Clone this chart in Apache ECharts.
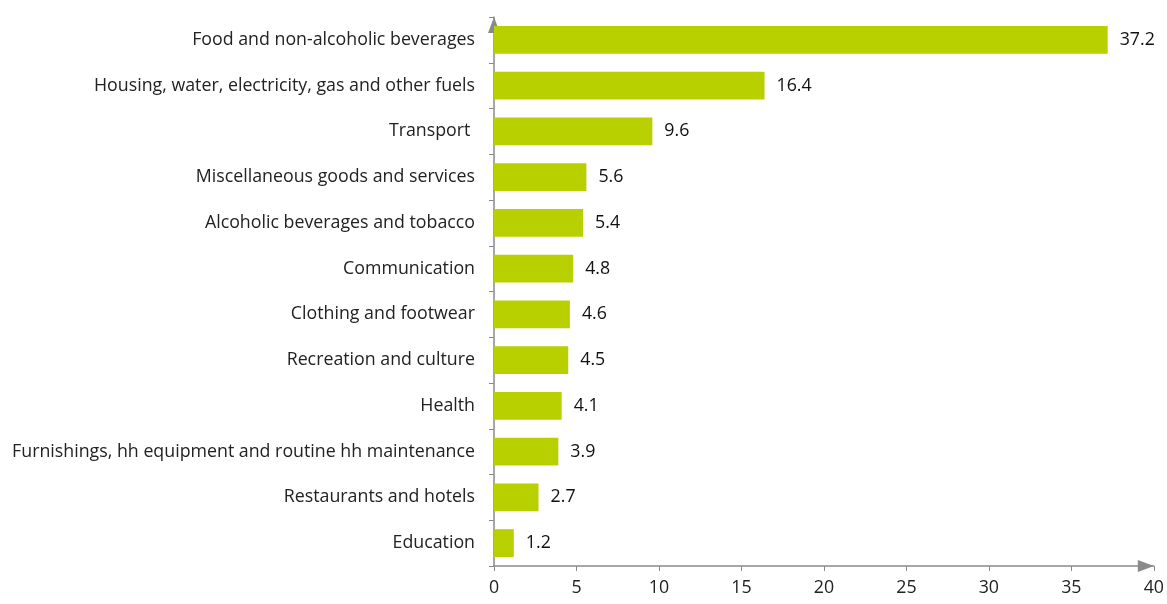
<!DOCTYPE html>
<html><head><meta charset="utf-8">
<script src="https://cdn.jsdelivr.net/npm/echarts@6/dist/echarts.min.js"></script>
<style>html,body{margin:0;padding:0;background:#fff}#c{width:1167px;height:604px}</style>
</head><body><div id="c"></div>
<script>
const categories = [
  "Food and non-alcoholic beverages",
  "Housing, water, electricity, gas and other fuels",
  "Transport ",
  "Miscellaneous goods and services",
  "Alcoholic beverages and tobacco",
  "Communication",
  "Clothing and footwear",
  "Recreation and culture",
  "Health",
  "Furnishings, hh equipment and routine hh maintenance",
  "Restaurants and hotels",
  "Education"
];
const values = [37.2, 16.4, 9.6, 5.6, 5.4, 4.8, 4.6, 4.5, 4.1, 3.9, 2.7, 1.2];

const font = "'Open Sans', sans-serif";
const fs = 17.8;
const axisGray = '#8a8a8a';
const chart = echarts.init(document.getElementById('c'));
chart.setOption({
  animation: false,
  grid: { left: 494, right: 13, top: 17, bottom: 38, containLabel: false },
  xAxis: {
    type: 'value', min: 0, max: 40, interval: 5,
    axisLine: { show: true, lineStyle: { color: axisGray, width: 1.5 }, symbol: ['none', 'triangle'], symbolSize: [12, 16], symbolOffset: [0, -8] },
    axisTick: { show: true, length: 5, lineStyle: { color: axisGray } },
    axisLabel: { color: '#222', fontSize: fs, fontFamily: font, margin: 13 },
    splitLine: { show: false }
  },
  yAxis: {
    type: 'category', data: categories.slice().reverse(),
    axisLine: { show: true, lineStyle: { color: axisGray, width: 1.5 }, symbol: ['none', 'triangle'], symbolSize: [12, 16], symbolOffset: [0, -8] },
    axisTick: { show: true, length: 5, lineStyle: { color: axisGray } },
    axisLabel: { color: '#222', fontSize: fs, fontFamily: font, margin: 19 }
  },
  series: [{
    type: 'bar', data: values.slice().reverse(),
    barCategoryGap: '39%',
    itemStyle: { color: '#b8cf00' },
    label: { show: true, position: 'right', distance: 12, color: '#111', fontSize: fs, fontFamily: font, formatter: p => p.value.toFixed(1) }
  }]
});
</script></body></html>
